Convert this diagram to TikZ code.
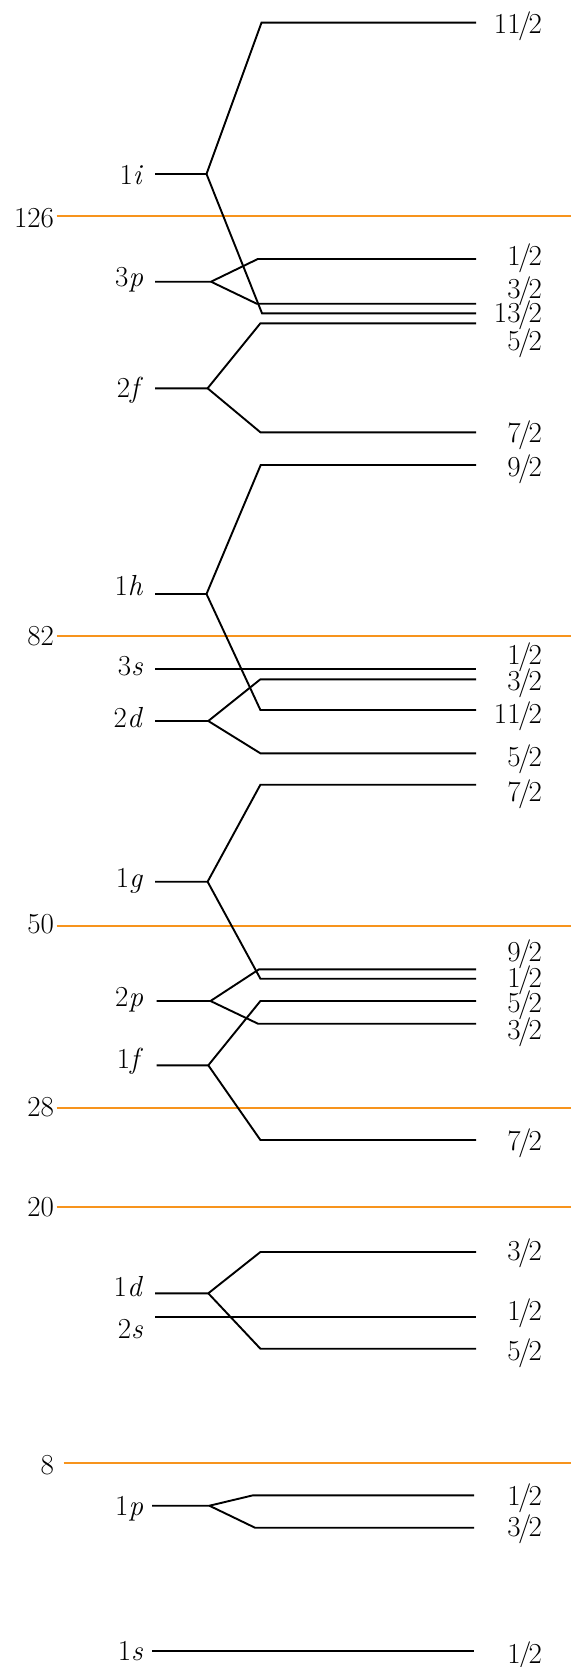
\documentclass[tikz,border=0pt]{standalone}
\definecolor{shellorange}{RGB}{247,148,29}

% one split level: name, y, left x, branch x, upper end x, upper y, lower end x, lower y, right x
\newcommand{\splitlev}[9]{%
  \coordinate (#1-l) at (#3,#2);
  \coordinate (#1-b) at (#4,#2);
  \coordinate (#1-u) at (#5,#6);
  \coordinate (#1-ue) at (#9,#6);
  \coordinate (#1-d) at (#7,#8);
  \coordinate (#1-de) at (#9,#8);
  \draw[orb] (#1-l) -- (#1-b) -- (#1-u) -- (#1-ue);
  \draw[orb] (#1-b) -- (#1-d) -- (#1-de);
}
% one unsplit level: name, y, left x, right x
\newcommand{\flatlev}[4]{%
  \coordinate (#1-l) at (#3,#2);
  \coordinate (#1-e) at (#4,#2);
  \draw[orb] (#1-l) -- (#1-e);
}
% a fraction j/2 set with a narrow slash
\newcommand{\jfrac}[1]{#1\kern-0.09em/\kern-0.09em 2}

\tikzset{
  orb/.style={line width=1.9pt, draw=black, line join=miter},
  shell/.style={line width=1.9pt, draw=shellorange},
  lab/.style={anchor=base east, inner sep=0pt, outer sep=0pt},
}

\begin{document}
\begin{tikzpicture}[x=1pt, y=-1pt, font=\fontsize{29}{32}\selectfont]
\useasboundingbox (0,0) rectangle (571,1667);

% closed shells
\foreach \n/\y/\b/\xs in {126/215.7/227.3/56.5, 82/636/645/56.5, 50/926.3/933.3/56.5,
                          28/1108/1116.7/56.5, 20/1207/1216/56.5, 8/1463.3/1474/63.7}{
  \node[lab] (m\n) at (54,\b) {\n};
  \coordinate (ms\n) at (\xs,\y);
  \coordinate (me\n) at (571,\y);
  \draw[shell] (ms\n) -- (me\n);
}

% levels
\splitlev{i1}{174}{155}{206.5}{261.5}{22.7}{262}{313.3}{476}
\splitlev{p3}{281.7}{155}{211}{257.8}{259}{256.7}{303.7}{476}
\splitlev{f2}{388.3}{155}{207.6}{260.4}{323.3}{260.4}{432.3}{476}
\splitlev{h1}{594}{155}{206.5}{260.7}{465}{260.4}{710}{476}
\flatlev{s3}{668.7}{155}{476}
\splitlev{d2}{721}{155}{208.3}{260.4}{679.3}{260.4}{753.3}{476}
\splitlev{g1}{881.7}{155}{207.6}{260.4}{784.7}{260.4}{978.7}{476}
\splitlev{p2}{1001}{156.6}{210.5}{259}{969.3}{258}{1023.7}{476}
\splitlev{f1}{1065.3}{156.6}{208.3}{260.4}{1001}{260.4}{1140}{476}
\splitlev{d1}{1293.3}{155}{208.3}{260.4}{1252}{260.4}{1348.7}{476}
\flatlev{s2}{1316.7}{155}{476}
\splitlev{p1}{1505.7}{152.2}{209.4}{253}{1495.3}{255}{1527.7}{474}
\flatlev{s1}{1651.3}{152.2}{474}

% orbital names
\foreach \nm/\t/\b in {i1/1\textit{i}/184, p3/3\textit{p}/286.7, f2/2\textit{f}/397.3,
                       h1/1\textit{h}/595, s3/3\textit{s}/675, d2/2\textit{d}/727.7,
                       g1/1\textit{g}/887.7, p2/2\textit{p}/1006.7, f1/1\textit{f}/1068,
                       d1/1\textit{d}/1296, s2/2\textit{s}/1338.3, p1/1\textit{p}/1515,
                       s1/1\textit{s}/1660.7}{
  \node[lab] (n\nm) at (143,\b) {\t};
}

% total angular momenta
\foreach \k/\t/\b in {a/11/33.3, b/1/265, c/3/298.3, d/13/322.7,
                      e/5/350, f/7/442.7, g/9/476.7,
                      h/1/664, i/3/690, j/11/723.3, k/5/766.7,
                      l/7/801, m/9/961.7, n/1/987.3, o/5/1012.3,
                      p/3/1039.3, q/7/1150, r/3/1260, s/1/1320,
                      t/5/1360.7, u/1/1505, v/3/1536, w/1/1663.3}{
  \node[lab] (j\k) at (542,\b) {\jfrac{\t}};
}
\end{tikzpicture}
\end{document}
